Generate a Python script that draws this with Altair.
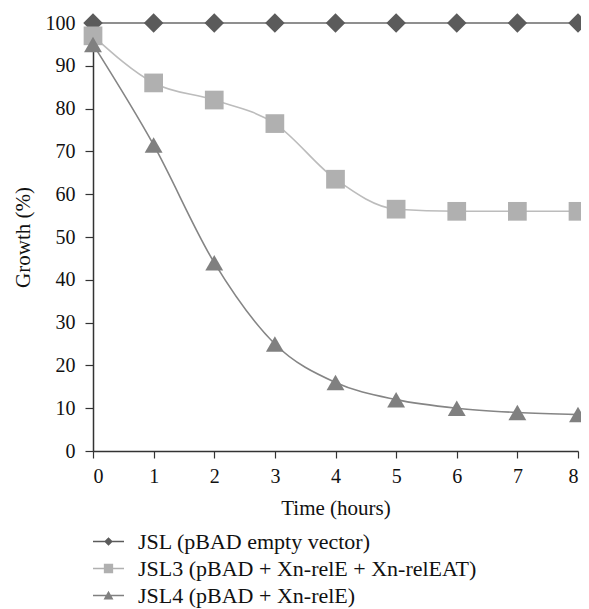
import altair as alt
import pandas as pd

hours = [0, 1, 2, 3, 4, 5, 6, 7, 8]
series_names = ["JSL (pBAD empty vector)",
                "JSL3 (pBAD + Xn-relE + Xn-relEAT)",
                "JSL4 (pBAD + Xn-relE)"]
jsl = [100, 100, 100, 100, 100, 100, 100, 100, 100]
jsl3 = [97, 86, 82, 76.5, 63.5, 56.5, 56, 56, 56]
jsl4 = [95, 71.5, 44, 25, 16, 12, 10, 9, 8.5]

marker_colors = ["#5b5b5b", "#b0b0b0", "#808080"]
line_colors = ["#6a6a6a", "#bcbcbc", "#858585"]
marker_shapes = ["diamond", "square", "triangle-up"]
legend_shapes = [
    "M-1,-0.05H1V0.05H-1Z M0,-0.28L0.28,0L0,0.28L-0.28,0Z",
    "M-1,-0.05H1V0.05H-1Z M-0.3,-0.3H0.3V0.3H-0.3Z",
    "M-1,-0.05H1V0.05H-1Z M0,-0.3L0.32,0.26L-0.32,0.26Z",
]

rows = []
for name, vals in zip(series_names, [jsl, jsl3, jsl4]):
    for h, v in zip(hours, vals):
        rows.append({"time": h, "growth": v, "series": name})
df = pd.DataFrame(rows)

FONT = "Liberation Serif"

x = alt.X("time:Q", title="Time (hours)",
          scale=alt.Scale(domain=[0, 8], nice=False),
          axis=alt.Axis(values=hours, tickCount=9, grid=False, domainColor="#333333",
                        domainWidth=1.5, tickColor="#333333", tickWidth=1.2, tickSize=7,
                        labelFont=FONT, labelFontSize=20, labelColor="#111111",
                        labelPadding=8, titleFont=FONT, titleFontSize=21,
                        titleFontWeight="normal", titleColor="#111111", titlePadding=11))
y = alt.Y("growth:Q", title="Growth (%)",
          scale=alt.Scale(domain=[0, 100], nice=False),
          axis=alt.Axis(values=list(range(0, 101, 10)), grid=False, domainColor="#333333",
                        domainWidth=1.5, tickColor="#333333", tickWidth=1.2, tickSize=8,
                        labelFont=FONT, labelFontSize=20, labelColor="#111111",
                        labelPadding=10, titleFont=FONT, titleFontSize=21,
                        titleFontWeight="normal", titleColor="#111111", titlePadding=12))

base = alt.Chart(df)

lines = base.mark_line(interpolate="monotone", strokeWidth=1.6).encode(
    x=x, y=y,
    color=alt.Color("series:N", scale=alt.Scale(domain=series_names, range=line_colors), legend=None),
    detail="series:N",
)

points = base.mark_point(filled=True, opacity=1).encode(
    x=x, y=y,
    color=alt.Color("series:N", scale=alt.Scale(domain=series_names, range=marker_colors), legend=None),
    shape=alt.Shape("series:N", scale=alt.Scale(domain=series_names, range=marker_shapes), legend=None),
    size=alt.Size("series:N", scale=alt.Scale(domain=series_names, range=[380, 320, 280]), legend=None),
)

leg = alt.Legend(title=None, orient="none", legendX=0, legendY=505,
                 symbolSize=961, symbolStrokeWidth=0, clipHeight=27, rowPadding=0,
                 labelFont=FONT, labelFontSize=22, labelColor="#111111", labelOffset=14,
                 labelLimit=500)

legend_layer = base.mark_point(filled=True, opacity=1).encode(
    x=x, y=y,
    color=alt.Color("series:N", scale=alt.Scale(domain=series_names, range=marker_colors), legend=leg),
    shape=alt.Shape("series:N", scale=alt.Scale(domain=series_names, range=legend_shapes), legend=leg),
).transform_filter(alt.datum.time < 0)

chart = alt.layer(lines, points, legend_layer).resolve_scale(
    color="independent", shape="independent"
).properties(
    width=485, height=428,
    background="white",
    autosize=alt.AutoSizeParams(type="none"),
    padding={"left": 85, "top": 15, "right": 3, "bottom": 158},
).configure_view(stroke="transparent", strokeWidth=0)

chart.save("out.html", embed_options={"renderer": "svg", "actions": False})
